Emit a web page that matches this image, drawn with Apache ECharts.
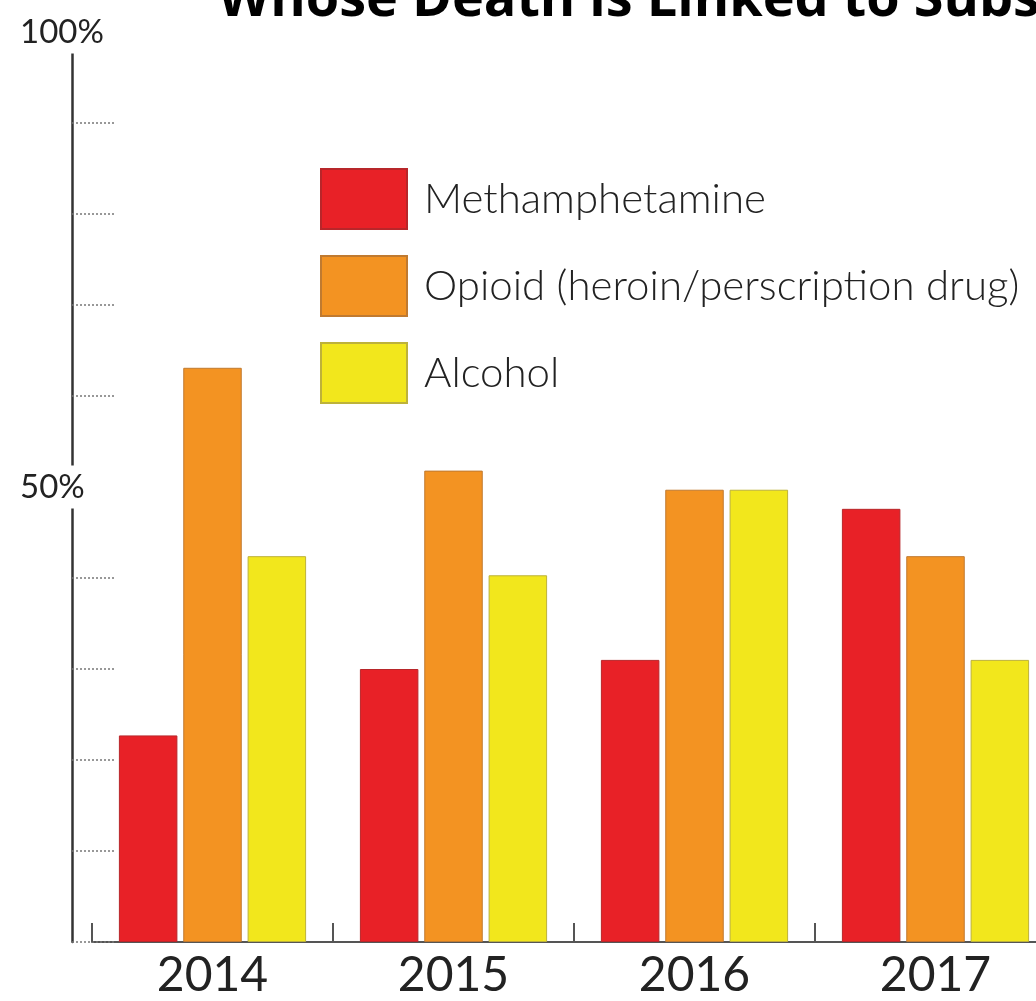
<!DOCTYPE html>
<html>
<head>
<meta charset="utf-8">
<script src="https://cdn.jsdelivr.net/npm/echarts@6/dist/echarts.min.js"></script>
<style>html,body{margin:0;padding:0;background:#fff;overflow:hidden;width:1036px;height:1001px}#c{width:1056px;height:1001px}</style>
</head>
<body>
<div id="c"></div>
<script>
const years = ['2014', '2015', '2016', '2017'];
const methamphetamine = [22.7, 30, 31, 47.6];
const opioid = [63.1, 51.8, 49.7, 42.4];
const alcohol = [42.4, 40.3, 49.7, 31];
const seriesNames = ['Methamphetamine', 'Opioid (heroin/perscription drug)', 'Alcohol'];
const yLabelValues = [50, 100];
const titleText = 'Whose Death is Linked to Substance Use';

const FONT = 'Lato';
const chart = echarts.init(document.getElementById('c'), null, {renderer: 'canvas'});

function barSeries(name, data, color, border) {
  return {
    name: name, type: 'bar', data: data,
    barWidth: 58.5, barGap: '10%',
    itemStyle: {color: color, borderColor: border, borderWidth: 1},
    emphasis: {disabled: true}
  };
}

chart.setOption({
  animation: false,
  backgroundColor: '#fff',
  title: {
    text: titleText, left: 218, top: -26, padding: 0,
    textStyle: {fontFamily: 'Open Sans', fontWeight: 'bold', fontSize: 54, color: '#000'}
  },
  legend: {
    orient: 'vertical', left: 320, top: 168, padding: 0,
    itemWidth: 86, itemHeight: 60, itemGap: 25, icon: 'rect',
    selectedMode: false,
    textStyle: {fontFamily: FONT, fontWeight: 300, fontSize: 42, color: '#222', padding: [0, 0, 0, 12]}
  },
  grid: {left: 92, top: 32, right: 0, bottom: 59, containLabel: false},
  xAxis: {
    type: 'category', data: years,
    axisLine: {show: true, lineStyle: {color: '#555', width: 2}},
    axisTick: {show: true, inside: true, length: 19, lineStyle: {color: '#555', width: 2}},
    axisLabel: {fontFamily: FONT, fontWeight: 400, fontSize: 48, color: '#222', margin: 10}
  },
  yAxis: {
    type: 'value', min: 0, max: 100, interval: 10, offset: 20,
    axisLine: {show: true, lineStyle: {color: '#333', width: 2.5}},
    axisTick: {show: true, inside: true, length: 43, lineStyle: {color: '#777', width: 1.5, type: [2, 2]}},
    splitLine: {show: false},
    axisLabel: {
      align: 'left', margin: 52,
      formatter: function (v) { return yLabelValues.indexOf(v) >= 0 ? '{a|' + v + '%}' : ''; },
      rich: {a: {fontFamily: FONT, fontWeight: 400, fontSize: 33, color: '#222', backgroundColor: '#fff', padding: [5, 40, 5, 0]}}
    }
  },
  series: [
    barSeries(seriesNames[0], methamphetamine, '#E82127', '#b8262a'),
    barSeries(seriesNames[1], opioid, '#F39322', '#c07a30'),
    barSeries(seriesNames[2], alcohol, '#F2E71C', '#bdb23a')
  ]
});
</script>
</body>
</html>
